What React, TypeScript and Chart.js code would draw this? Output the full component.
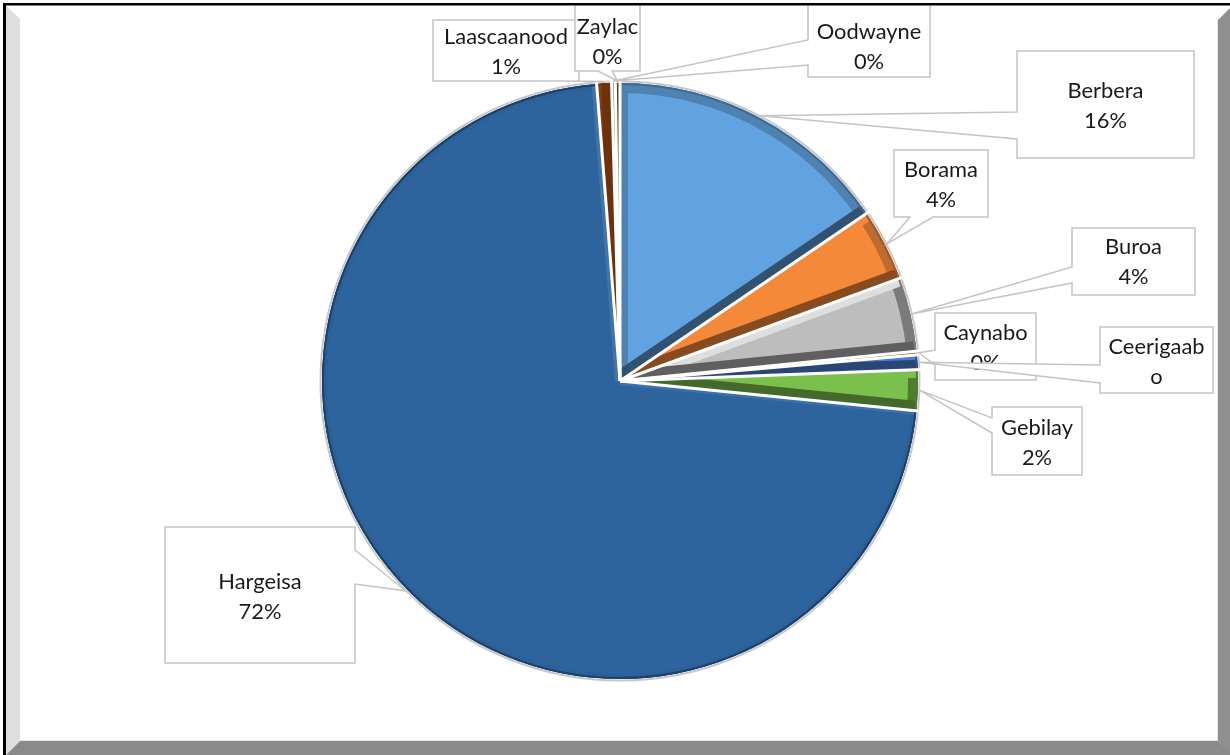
import React, { useEffect, useRef } from 'react';
import { Chart, registerables } from 'chart.js';

Chart.register(...registerables);

const W = 1230;
const H = 755;

// ---- data ----
const categories = ['Berbera', 'Borama', 'Buroa', 'Caynabo', 'Ceerigaabo', 'Gebilay', 'Hargeisa', 'Laascaanood', 'Oodwayne', 'Zaylac'];
const shares = [15.5, 3.9, 4.0, 0.2, 0.8, 2.2, 72.15, 0.8, 0.2, 0.25];

// ---- styles ----
const sliceColors = ['#61a3e0', '#f5893a', '#bdbdbd', '#ffc000', '#4a7fd8', '#7bbf4d', '#2d649e', '#a84d12', '#a0a0a0', '#997300'];
// bevel tones: [outer rim, start edge, end edge]; >0 darken, <0 lighten
const bevelTones = [
  [0.2, 0.2, 0.5],
  [0.22, 0.0, 0.45],
  [0.35, -0.5, 0.5],
  [0.2, 0.2, 0.5],
  [0.25, 0.0, 0.45],
  [0.35, 0.0, 0.45],
  [0.04, -0.08, -0.1],
  [0.2, 0.2, 0.35],
  [0.1, -0.3, 0.2],
  [0.2, 0.2, 0.4],
];
const bevelWidths = [10, 10, 10, 10, 10, 10, 5, 10, 10, 10];

// ---- label layout (callout boxes) ----
const labelBoxes = [
  [1017, 51, 1194, 158],
  [894, 150, 988, 217],
  [1072, 228, 1195, 295],
  [935, 313, 1036, 380],
  [1100, 327, 1213, 393],
  [992, 407, 1082, 475],
  [165, 527, 355, 663],
  [433, 20, 579, 81],
  [808, 4, 930, 77],
  [575, 4, 640, 71],
];
const wedgeSides = ['left', 'bottom', 'left', 'left', 'left', 'left', 'right', 'bottom', 'left', 'bottom'];
const wedgeBases = [[112, 139], [910, 933], [267, 283], [350, 365], [365, 383], [418, 433], [550, 584], [562, 576], [40, 65], [598, 612]];
const firstLineY = [91, 170, 247, 333, 347, 428, 582, 37, 32, 27];
const nameBreakAt = [0, 0, 0, 0, 9, 0, 0, 0, 0, 0];
const LINE_STEP = 29.5;

function shade(hex: string, amt: number) {
  const n = parseInt(hex.slice(1), 16);
  let r = n >> 16, g = (n >> 8) & 255, b = n & 255;
  if (amt >= 0) {
    r *= 1 - amt; g *= 1 - amt; b *= 1 - amt;
  } else {
    const a = -amt;
    r += (255 - r) * a; g += (255 - g) * a; b += (255 - b) * a;
  }
  return `rgb(${Math.round(r)},${Math.round(g)},${Math.round(b)})`;
}

const bgPlugin = {
  id: 'bg',
  beforeDraw(chart: any) {
    const ctx = chart.ctx;
    ctx.save();
    ctx.fillStyle = '#ffffff';
    ctx.fillRect(0, 0, W, H);
    ctx.restore();
  },
};

const bevelPlugin = {
  id: 'bevel',
  afterDatasetsDraw(chart: any) {
    const ctx = chart.ctx;
    const meta = chart.getDatasetMeta(0);
    const arcs = meta.data;
    let cx = 0, cy = 0, R = 0;
    arcs.forEach((arc: any, i: number) => {
      const p = arc.getProps(['x', 'y', 'startAngle', 'endAngle', 'outerRadius'], true);
      cx = p.x; cy = p.y; R = p.outerRadius;
      const base = sliceColors[i];
      const [tOuter, tStart, tEnd] = bevelTones[i];
      const w = bevelWidths[i];
      ctx.save();
      ctx.beginPath();
      ctx.moveTo(p.x, p.y);
      ctx.arc(p.x, p.y, p.outerRadius, p.startAngle, p.endAngle);
      ctx.closePath();
      ctx.clip();
      ctx.lineJoin = 'miter';
      // outer rim band
      ctx.beginPath();
      ctx.arc(p.x, p.y, p.outerRadius, p.startAngle, p.endAngle);
      ctx.lineWidth = 2 * w;
      ctx.strokeStyle = shade(base, tOuter);
      ctx.stroke();
      // start edge band
      ctx.beginPath();
      ctx.moveTo(p.x, p.y);
      ctx.lineTo(p.x + (p.outerRadius + 5) * Math.cos(p.startAngle), p.y + (p.outerRadius + 5) * Math.sin(p.startAngle));
      ctx.lineWidth = 2 * w * 0.8;
      ctx.strokeStyle = shade(base, tStart);
      ctx.stroke();
      // end edge band
      ctx.beginPath();
      ctx.moveTo(p.x, p.y);
      ctx.lineTo(p.x + (p.outerRadius + 5) * Math.cos(p.endAngle), p.y + (p.outerRadius + 5) * Math.sin(p.endAngle));
      ctx.lineWidth = 2 * w;
      ctx.strokeStyle = shade(base, tEnd);
      ctx.stroke();
      // thin dark outer line
      ctx.beginPath();
      ctx.arc(p.x, p.y, p.outerRadius, p.startAngle, p.endAngle);
      ctx.lineWidth = 4;
      ctx.strokeStyle = shade(base, 0.35);
      ctx.stroke();
      ctx.restore();
    });
    // light halo around the pie
    ctx.save();
    ctx.beginPath();
    ctx.arc(cx, cy, R + 1.5, 0, Math.PI * 2);
    ctx.lineWidth = 2;
    ctx.strokeStyle = '#c8c8c8';
    ctx.stroke();
    // white separators
    ctx.strokeStyle = '#ffffff';
    ctx.lineWidth = 3;
    ctx.lineCap = 'butt';
    arcs.forEach((arc: any) => {
      const p = arc.getProps(['startAngle'], true);
      ctx.beginPath();
      ctx.moveTo(cx, cy);
      ctx.lineTo(cx + (R + 4) * Math.cos(p.startAngle), cy + (R + 4) * Math.sin(p.startAngle));
      ctx.stroke();
    });
    ctx.restore();

    // ---- callout labels ----
    const total = shares.reduce((a, b) => a + b, 0);
    ctx.save();
    ctx.font = '100px Lato';
    const ref = ctx.measureText('Berbera').width;
    const fontSize = (100 * 76) / ref;
    arcs.forEach((arc: any, i: number) => {
      const p = arc.getProps(['x', 'y', 'startAngle', 'endAngle', 'outerRadius'], true);
      const mid = (p.startAngle + p.endAngle) / 2;
      const tip = { x: p.x + (p.outerRadius + 2) * Math.cos(mid), y: p.y + (p.outerRadius + 2) * Math.sin(mid) };
      const [l, t, r, b] = labelBoxes[i];
      const side = wedgeSides[i];
      const [a1, a2] = wedgeBases[i];
      ctx.beginPath();
      ctx.moveTo(l, t);
      if (side === 'top') { ctx.lineTo(a1, t); ctx.lineTo(tip.x, tip.y); ctx.lineTo(a2, t); }
      ctx.lineTo(r, t);
      if (side === 'right') { ctx.lineTo(r, a1); ctx.lineTo(tip.x, tip.y); ctx.lineTo(r, a2); }
      ctx.lineTo(r, b);
      if (side === 'bottom') { ctx.lineTo(a2, b); ctx.lineTo(tip.x, tip.y); ctx.lineTo(a1, b); }
      ctx.lineTo(l, b);
      if (side === 'left') { ctx.lineTo(l, a2); ctx.lineTo(tip.x, tip.y); ctx.lineTo(l, a1); }
      ctx.closePath();
      ctx.fillStyle = '#ffffff';
      ctx.fill();
      ctx.lineWidth = 1.5;
      ctx.strokeStyle = '#c4c4c4';
      ctx.lineJoin = 'miter';
      ctx.stroke();

      const name = categories[i];
      const pct = Math.round((shares[i] / total) * 100) + '%';
      const lines: string[] = [];
      if (nameBreakAt[i] > 0) {
        lines.push(name.slice(0, nameBreakAt[i]), name.slice(nameBreakAt[i]));
      } else {
        lines.push(name);
      }
      lines.push(pct);
      ctx.save();
      ctx.beginPath();
      ctx.rect(l + 1, t + 1, r - l - 2, b - t - 2);
      ctx.clip();
      ctx.fillStyle = '#1a1a1a';
      ctx.font = `${fontSize.toFixed(2)}px Lato`;
      ctx.textAlign = 'center';
      ctx.textBaseline = 'middle';
      const cxText = (l + r) / 2;
      lines.forEach((s, k) => {
        ctx.fillText(s, cxText, firstLineY[i] + k * LINE_STEP);
      });
      ctx.restore();
    });
    ctx.restore();
  },
};

const framePlugin = {
  id: 'frame',
  afterDraw(chart: any) {
    const ctx = chart.ctx;
    ctx.save();
    const poly = (pts: number[][], color: string) => {
      ctx.beginPath();
      ctx.moveTo(pts[0][0], pts[0][1]);
      for (let k = 1; k < pts.length; k++) ctx.lineTo(pts[k][0], pts[k][1]);
      ctx.closePath();
      ctx.fillStyle = color;
      ctx.fill();
    };
    poly([[6, 5.5], [20, 19], [20, 741], [6, 755]], '#dedede');
    poly([[1218, 20], [1230, 8], [1230, 755], [1218, 741]], '#8f8f8f');
    poly([[6, 755], [20, 741], [1218, 741], [1230, 753], [1230, 755]], '#8a8a8a');
    ctx.strokeStyle = '#e4e4e4';
    ctx.lineWidth = 1;
    ctx.beginPath();
    ctx.moveTo(20, 740.5);
    ctx.lineTo(1217.5, 740.5);
    ctx.lineTo(1217.5, 20);
    ctx.stroke();
    ctx.fillStyle = '#ffffff';
    ctx.fillRect(0, 0, W, 3);
    ctx.fillStyle = '#000000';
    ctx.fillRect(3, 3, W - 3, 2.5);
    ctx.fillRect(3, 3, 3, H - 3);
    ctx.restore();
  },
};

export default function App() {
  const canvasRef = useRef<HTMLCanvasElement>(null);
  useEffect(() => {
    document.body.style.margin = '0';
    const canvas = canvasRef.current;
    if (!canvas) return;
    const chart = new Chart(canvas, {
      type: 'pie',
      data: {
        labels: categories,
        datasets: [
          {
            data: shares,
            backgroundColor: sliceColors,
            borderWidth: 0,
          },
        ],
      },
      options: {
        responsive: false,
        animation: false,
        events: [],
        layout: { padding: { left: 322, right: 312, top: 83, bottom: 76 } },
        plugins: {
          legend: { display: false },
          tooltip: { enabled: false },
          title: { display: false },
        },
      },
      plugins: [bgPlugin, bevelPlugin, framePlugin],
    });
    return () => chart.destroy();
  }, []);
  return (
    <div style={{ width: W, height: H, position: 'relative', overflow: 'hidden' }}>
      <canvas ref={canvasRef} width={W} height={H} style={{ display: 'block', width: W, height: H }} />
    </div>
  );
}
